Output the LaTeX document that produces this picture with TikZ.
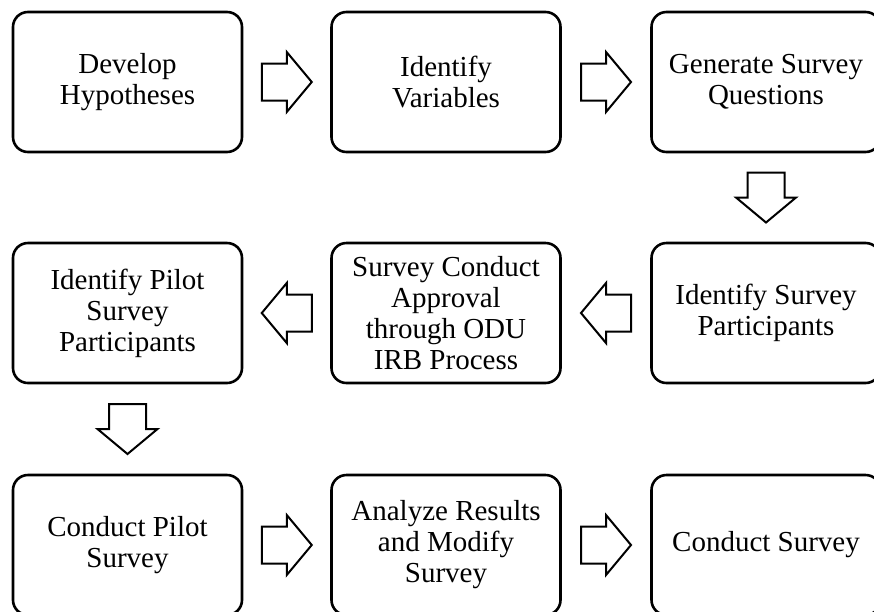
\documentclass[tikz,border=0pt]{standalone}
\usepackage{fontspec}
\setmainfont{Liberation Serif}
\usetikzlibrary{calc}

\tikzset{
  stepbox/.style={draw, line width=2.6pt, rounded corners=15pt,
    minimum width=229pt, minimum height=140pt, align=center, inner sep=4pt,
    font=\fontsize{29}{31}\selectfont},
  arrowline/.style={draw, line width=2pt, line join=miter, fill=white},
  pics/blockarrow/.style={code={
    \path[arrowline] (-25,-18.5) -- (0,-18.5) -- (0,-30) -- (25,0)
      -- (0,30) -- (0,18.5) -- (-25,18.5) -- cycle;}}
}

\begin{document}
\begin{tikzpicture}[x=1pt, y=-1pt]
\useasboundingbox (0,0) rectangle (874,611);
\clip (0,0) rectangle (874,611);

% row 1
\node[stepbox] (dev)  at (127.5,82) {Develop\\Hypotheses};
\node[stepbox] (var)  at (446,82)   {Identify\\Variables};
\node[stepbox] (gen)  at (766,82)   {Generate Survey\\Questions};
% row 2
\node[stepbox] (pil)  at (127.5,313) {Identify Pilot\\Survey\\Participants};
\node[stepbox] (irb)  at (446,313)   {Survey Conduct\\Approval\\through ODU\\IRB Process};
\node[stepbox] (par)  at (766,313)   {Identify Survey\\Participants};
% row 3
\node[stepbox] (cps)  at (127.5,545) {Conduct Pilot\\Survey};
\node[stepbox] (ana)  at (446,545)   {Analyze Results\\and Modify\\Survey};
\node[stepbox] (con)  at (766,545)   {Conduct Survey};

% block arrows between the steps
\pic at ($(dev.east)!0.5!(var.west)$) {blockarrow};
\pic at ($(var.east)!0.5!(gen.west)$) {blockarrow};
\pic[rotate=-90] at ($(gen.south)!0.5!(par.north)$) {blockarrow};
\pic[rotate=180] at ($(par.west)!0.5!(irb.east)$) {blockarrow};
\pic[rotate=180] at ($(irb.west)!0.5!(pil.east)$) {blockarrow};
\pic[rotate=-90] at ($(pil.south)!0.5!(cps.north)$) {blockarrow};
\pic at ($(cps.east)!0.5!(ana.west)$) {blockarrow};
\pic at ($(ana.east)!0.5!(con.west)$) {blockarrow};
\end{tikzpicture}
\end{document}
